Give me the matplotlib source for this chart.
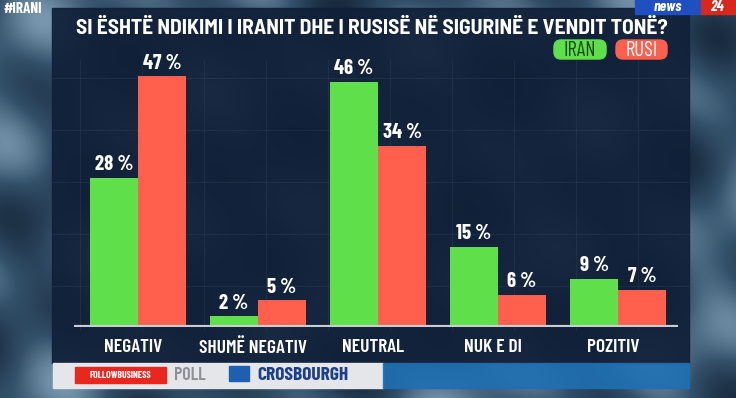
import numpy as np
import matplotlib.pyplot as plt
from matplotlib.patches import Rectangle, FancyBboxPatch
from matplotlib.colors import LinearSegmentedColormap

# Poll data
categories = ['NEGATIV', 'SHUMË NEGATIV', 'NEUTRAL', 'NUK E DI', 'POZITIV']
iran = [28, 2, 46, 15, 9]
rusi = [47, 5, 34, 6, 7]

W, H = 736, 398
green = '#5fe04b'
red = '#ff5f4c'
font = ['Barlow Condensed', 'DejaVu Sans']
font_semi = ['Barlow Semi Condensed', 'DejaVu Sans']

fig = plt.figure(figsize=(W / 100, H / 100), dpi=100)
fig.patch.set_facecolor('#2f4456')

# background: blurred photo look + dark panel
bg = fig.add_axes([0, 0, 1, 1])
bg.set_xlim(0, W)
bg.set_ylim(H, 0)
bg.axis('off')
yy, xx = np.mgrid[0:H, 0:W]
tex = (np.sin(xx / 45.0 + yy / 30.0) * np.cos(yy / 55.0 - xx / 110.0)
       + 0.5 * np.sin(xx / 19.0 - yy / 27.0))
cmap = LinearSegmentedColormap.from_list('bgblue', ['#16263a', '#33516a', '#7d9bb2'])
bg.imshow(tex, cmap=cmap, extent=(0, W, H, 0), vmin=-1.6, vmax=1.6, aspect='auto')
bg.add_patch(Rectangle((52, 8), 637, 355, color='#102038', alpha=0.93))
for gx in np.arange(80, 689, 62):
    bg.plot([gx, gx], [60, 330], color='white', alpha=0.05, lw=0.8)
for gy in np.arange(78, 330, 52):
    bg.plot([52, 689], [gy, gy], color='white', alpha=0.05, lw=0.8)

# bottom strip
bg.add_patch(Rectangle((53, 363), 330, 25, color='#e4e6ea'))
bg.add_patch(Rectangle((383, 363), 306, 25, color='#1f6fb2', alpha=0.9))
bg.add_patch(Rectangle((75, 367), 91, 16, color='#e8281e'))
bg.text(120, 375, 'FOLLOWBUSINESS', color='white', fontsize=7, fontweight='bold',
        ha='center', va='center', family=font)
bg.text(190, 375, 'POLL', color='#8a8f98', fontsize=13, fontweight='semibold',
        ha='center', va='center', family=font)
bg.add_patch(Rectangle((229, 366), 20, 15, color='#1f5fb0'))
bg.text(303, 376, 'CROSBOURGH', color='#1d3f8a', fontsize=14, fontweight='bold',
        ha='center', va='center', family=font)

# header texts
bg.text(4, 9, '#IRANI', color='white', fontsize=11, fontweight='bold', va='center', family=font)
bg.add_patch(Rectangle((635, 0), 66, 14, color='#1f4fc0'))
bg.add_patch(Rectangle((701, 0), 35, 14, color='#d8281e'))
bg.text(668, 7, 'news', color='white', fontsize=11, fontweight='bold', fontstyle='italic',
        ha='center', va='center', family=font)
bg.text(718, 7, '24', color='white', fontsize=11, fontweight='bold', fontstyle='italic',
        ha='center', va='center', family=font)
bg.text(372, 28, 'SI ËSHTË NDIKIMI I IRANIT DHE I RUSISË NË SIGURINË E VENDIT TONË?',
        color='white', fontsize=15.5, fontweight='bold', ha='center', va='center',
        family=font_semi)
bg.add_patch(FancyBboxPatch((554, 40), 52, 19, boxstyle='round,pad=0,rounding_size=7',
                            color=green))
bg.text(580, 50, 'IRAN', color='#1c4a14', fontsize=15, ha='center', va='center', family=font)
bg.add_patch(FancyBboxPatch((616, 40), 51, 19, boxstyle='round,pad=0,rounding_size=7',
                            color=red))
bg.text(641.5, 50, 'RUSI', color='white', fontsize=15, ha='center', va='center', family=font)

# chart axes
ax = fig.add_axes([53 / W, 71 / H, 636 / W, 266.5 / H])
ax.patch.set_alpha(0)
ax.set_xlim(-85 / 120, 551 / 120)
ax.set_ylim(0, 50)
ax.axis('off')

x = np.arange(len(categories))
w = 0.4
b1 = ax.bar(x - w / 2, iran, w, color=green, edgecolor='none')
b2 = ax.bar(x + w / 2, rusi, w, color=red, edgecolor='none')
ax.plot([-0.53, 4.5], [0, 0], color='#c8cdd4', lw=3, solid_capstyle='butt')

for bars, vals in ((b1, iran), (b2, rusi)):
    for b, v in zip(bars, vals):
        ax.text(b.get_x() + b.get_width() / 2, v + 0.7, f'{v} %', color='white',
                fontsize=15, fontweight='bold', ha='center', va='bottom', family=font)

for xi, c in zip(x, categories):
    ax.text(xi - 0.04, -2.2, c, color='white', fontsize=14, fontweight='semibold',
            ha='center', va='top', family=font)

fig.savefig('out.png', dpi=100)
